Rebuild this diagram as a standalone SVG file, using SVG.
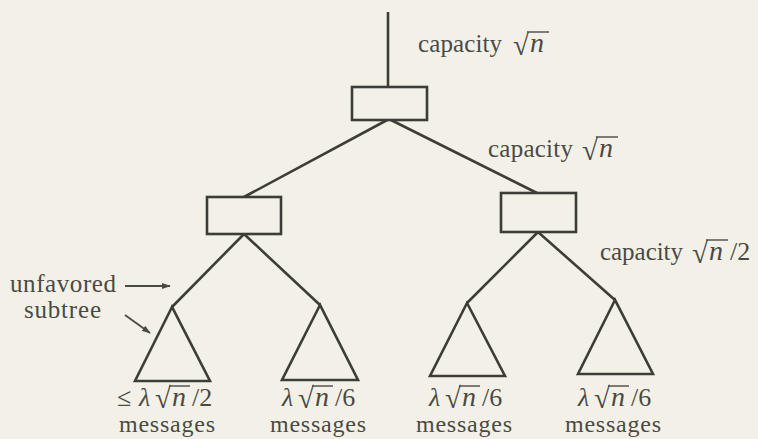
<svg xmlns="http://www.w3.org/2000/svg" width="758" height="439" viewBox="0 0 758 439">
<style>
.bg{fill:#f3f1e7}
.ln{stroke:#3d3d38;stroke-width:2.6;fill:none}
.bx{stroke:#3d3d38;stroke-width:2.6;fill:#f3f1e7}
.t{font-family:"Liberation Serif","DejaVu Serif",serif;font-size:25px;fill:#4a4a44}
.b{font-family:"Liberation Serif","DejaVu Serif",serif;font-size:24px;fill:#4a4a44}
.m{font-family:"Liberation Serif","DejaVu Serif",serif;font-size:26px;fill:#4a4a44}
.r{font-family:"Liberation Serif","DejaVu Serif",serif;font-size:29px;fill:#4a4a44}
.n{font-family:"Liberation Serif","DejaVu Serif",serif;font-size:28px;font-style:italic;fill:#4a4a44}
.i{font-style:italic}
.ov{stroke:#4a4a44;stroke-width:1.4}
.ar{stroke:#4a4a44;stroke-width:1.8;fill:none}
.c{text-anchor:middle}
</style>
<defs>
<marker id="ah" viewBox="0 0 10 10" refX="9" refY="5" markerWidth="9" markerHeight="9" orient="auto" markerUnits="userSpaceOnUse">
<path d="M0,1.5 L10,5 L0,8.5 z" fill="#4a4a44"/>
</marker>
</defs>
<rect class="bg" x="0" y="0" width="758" height="439"/>
<g id="connectors">
<line class="ln" x1="388" y1="12" x2="388" y2="87"/>
<line class="ln" x1="389" y1="119" x2="244" y2="197"/>
<line class="ln" x1="389" y1="119" x2="537" y2="193"/>
<line class="ln" x1="244" y1="234" x2="172" y2="307"/>
<line class="ln" x1="244" y1="234" x2="320" y2="305"/>
<line class="ln" x1="538" y1="232" x2="467" y2="303"/>
<line class="ln" x1="538" y1="232" x2="615" y2="300"/>
</g>
<g id="root"><rect class="bx" x="352" y="87" width="75" height="33"/></g>
<g id="left"><rect class="bx" x="207" y="197" width="74" height="37"/></g>
<g id="right"><rect class="bx" x="501" y="193" width="75" height="39"/></g>
<g id="t1"><path class="ln" d="M172,307 L135,381 L210,381 Z"/></g>
<g id="t2"><path class="ln" d="M320,305 L282,380 L358,380 Z"/></g>
<g id="t3"><path class="ln" d="M467,303 L430,376 L505,376 Z"/></g>
<g id="t4"><path class="ln" d="M615,300 L578,374 L653,374 Z"/></g>
<g id="labels">
<text class="t" x="418" y="52" textLength="84">capacity</text>
<text class="r" x="513" y="55">√</text>
<text class="n" x="530" y="52">n</text>
<line class="ov" x1="527" y1="32" x2="549" y2="32"/>

<text class="t" x="488" y="157" textLength="85">capacity</text>
<text class="r" x="582" y="160">√</text>
<text class="n" x="599" y="157">n</text>
<line class="ov" x1="596" y1="137" x2="618" y2="137"/>

<text class="t" x="600" y="260" textLength="83">capacity</text>
<text class="r" x="692" y="263">√</text>
<text class="n" x="709" y="260">n</text>
<line class="ov" x1="706" y1="240" x2="728" y2="240"/>
<text class="m" x="730" y="260">/2</text>

<text class="t" x="10" y="292" textLength="106">unfavored</text>
<text class="t" x="24" y="318" textLength="77">subtree</text>
<line class="ar" x1="125" y1="286" x2="170" y2="286" marker-end="url(#ah)"/>
<line class="ar" x1="125" y1="315" x2="150" y2="333" marker-end="url(#ah)"/>

<text class="m" x="117" y="406">≤</text>
<text class="m i" x="139" y="406">λ</text>
<text class="r" x="155" y="408">√</text>
<text class="n" x="172" y="406">n</text>
<line class="ov" x1="169" y1="386" x2="190" y2="386"/>
<text class="m" x="192" y="406">/2</text>
<text class="b c" x="167" y="432" textLength="96">messages</text>

<text class="m i" x="282" y="406">λ</text>
<text class="r" x="298" y="408">√</text>
<text class="n" x="315" y="406">n</text>
<line class="ov" x1="312" y1="386" x2="333" y2="386"/>
<text class="m" x="335" y="406">/6</text>
<text class="b c" x="318" y="432" textLength="96">messages</text>

<text class="m i" x="429" y="406">λ</text>
<text class="r" x="445" y="408">√</text>
<text class="n" x="462" y="406">n</text>
<line class="ov" x1="459" y1="386" x2="480" y2="386"/>
<text class="m" x="482" y="406">/6</text>
<text class="b c" x="464" y="432" textLength="96">messages</text>

<text class="m i" x="578" y="406">λ</text>
<text class="r" x="594" y="408">√</text>
<text class="n" x="611" y="406">n</text>
<line class="ov" x1="608" y1="386" x2="629" y2="386"/>
<text class="m" x="631" y="406">/6</text>
<text class="b c" x="613" y="432" textLength="96">messages</text>
</g>
</svg>
